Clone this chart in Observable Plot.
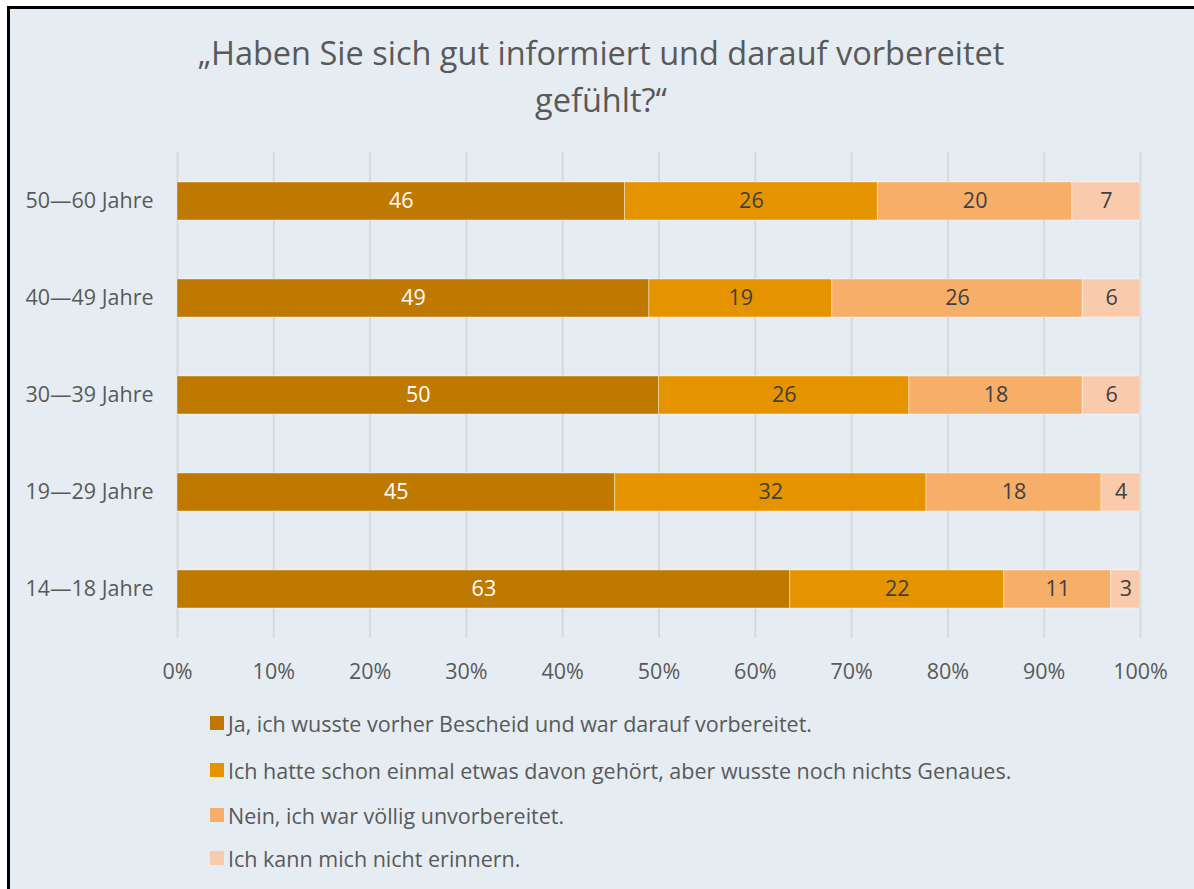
<!DOCTYPE html>
<html>
<head>
<meta charset="utf-8">
<script src="https://cdn.jsdelivr.net/npm/d3@7"></script>
<script src="https://cdn.jsdelivr.net/npm/@observablehq/plot@0.6"></script>
<style>
  html, body { margin: 0; padding: 0; background: #ffffff; width: 1194px; height: 889px; overflow: hidden; }
  #frame { position: absolute; left: 7px; top: 6px; width: 1200px; height: 900px; border-left: 3px solid #000; border-top: 3px solid #000; background: #E5EDF3; }
  #title { position: absolute; left: 0; top: 29px; width: 1202px; text-align: center; font-family: "Open Sans", sans-serif; font-size: 32.5px; line-height: 47px; color: #595959; }
  #chart { position: absolute; left: 0; top: 140px; }
  #legend { position: absolute; left: 210px; top: 700px; font-family: "Open Sans", sans-serif; font-size: 21.5px; color: #595959; }
  .item { position: absolute; left: 0; height: 24px; display: flex; align-items: center; white-space: nowrap; }
  .sw { width: 14px; height: 14px; margin-right: 4px; }
</style>
</head>
<body>
<div id="frame"></div>
<div id="title">„Haben Sie sich gut informiert und darauf vorbereitet<br>gefühlt?“</div>
<div id="chart"></div>
<div id="legend"></div>
<script>
const groups = ["50—60 Jahre", "40—49 Jahre", "30—39 Jahre", "19—29 Jahre", "14—18 Jahre"];
const series = [
  "Ja, ich wusste vorher Bescheid und war darauf vorbereitet.",
  "Ich hatte schon einmal etwas davon gehört, aber wusste noch nichts Genaues.",
  "Nein, ich war völlig unvorbereitet.",
  "Ich kann mich nicht erinnern."
];
const colors = ["#BF7800", "#E59400", "#F7AE69", "#F9CBAC"];
const labelColors = ["#ffffff", "#404040", "#404040", "#404040"];
const valuesJa = [46, 49, 50, 45, 63];
const valuesSchon = [26, 19, 26, 32, 22];
const valuesNein = [20, 26, 18, 18, 11];
const valuesWeissNicht = [7, 6, 6, 4, 3];
const xTicks = [0, 0.1, 0.2, 0.3, 0.4, 0.5, 0.6, 0.7, 0.8, 0.9, 1];

const seriesValues = [valuesJa, valuesSchon, valuesNein, valuesWeissNicht];
const data = [];
series.forEach((s, si) => {
  groups.forEach((g, gi) => {
    data.push({group: g, series: s, si, value: seriesValues[si][gi]});
  });
});

const font = '"Open Sans", sans-serif';
const fs = 21.5;
const chart = Plot.plot({
  width: 1194,
  height: 548,
  marginLeft: 177,
  marginRight: 54,
  marginTop: 12,
  marginBottom: 50,
  style: {background: "transparent", fontFamily: font, fontSize: fs + "px", color: "#595959", overflow: "visible"},
  x: {domain: [0, 1], ticks: xTicks, tickFormat: d3.format(".0%"), label: null},
  y: {domain: groups, paddingInner: 0.61, paddingOuter: 0.305, label: null},
  color: {domain: series, range: colors},
  marks: [
    Plot.gridX(xTicks, {stroke: "#D9D9D9", strokeOpacity: 1, strokeWidth: 2}),
    Plot.axisX({ticks: xTicks, tickFormat: d3.format(".0%"), tickSize: 0, tickPadding: 25, fill: "#595959", label: null, fontSize: fs}),
    Plot.axisY({tickSize: 0, tickPadding: 24, fill: "#595959", label: null, fontSize: fs}),
    Plot.barX(data, Plot.stackX({x: "value", y: "group", z: "series", fill: "series", offset: "normalize", stroke: "#ffffff", strokeWidth: 0.8, strokeOpacity: 0.5})),
    Plot.text(data, Plot.stackX({x: "value", y: "group", z: "series", offset: "normalize", text: d => String(d.value), fill: d => labelColors[d.si], fontSize: fs}))
  ]
});
document.getElementById("chart").appendChild(chart);

const legend = document.getElementById("legend");
const rowTops = [11, 58, 103, 146];
series.forEach((s, i) => {
  const item = document.createElement("div");
  item.className = "item";
  item.style.top = rowTops[i] + "px";
  const sw = document.createElement("span");
  sw.className = "sw";
  sw.style.background = colors[i];
  const t = document.createElement("span");
  t.textContent = s;
  item.appendChild(sw);
  item.appendChild(t);
  legend.appendChild(item);
});
</script>
</body>
</html>
